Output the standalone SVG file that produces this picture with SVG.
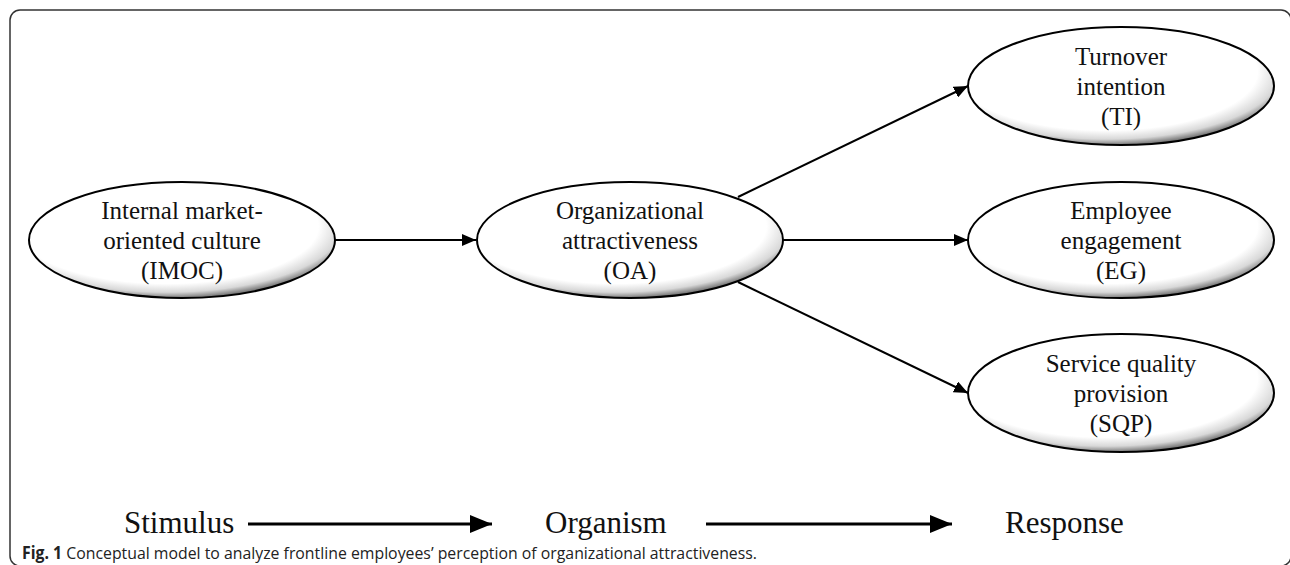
<svg xmlns="http://www.w3.org/2000/svg" width="1290" height="565" viewBox="0 0 1290 565">
<style>
.node ellipse{fill:url(#shade);stroke:#000;stroke-width:2}
.lbl{font-family:"Liberation Serif","Times New Roman",serif;font-size:25px;fill:#111;text-anchor:middle}
.big{font-family:"Liberation Serif","Times New Roman",serif;font-size:31px;fill:#111}
.conn line{stroke:#000;stroke-width:2}
.flow line{stroke:#000;stroke-width:3}
.cap{font-family:"Open Sans","Liberation Sans",sans-serif;font-size:17px;fill:#222}
</style>
<defs>
<radialGradient id="shade" cx="0.45" cy="0.38" r="0.62">
<stop offset="0" stop-color="#fff"/>
<stop offset="0.8" stop-color="#fff"/>
<stop offset="0.92" stop-color="#d8d8d8"/>
<stop offset="1" stop-color="#7a7a7a"/>
</radialGradient>
<marker id="ah" viewBox="0 0 14 12" refX="14" refY="6" markerWidth="14" markerHeight="12" markerUnits="userSpaceOnUse" orient="auto">
<path d="M0,0 L14,6 L0,12 z" fill="#000"/>
</marker>
<marker id="ahb" viewBox="0 0 22 18" refX="22" refY="9" markerWidth="22" markerHeight="18" markerUnits="userSpaceOnUse" orient="auto">
<path d="M0,0 L22,9 L0,18 z" fill="#000"/>
</marker>
</defs>
<rect x="0" y="0" width="1290" height="565" fill="#fff"/>
<rect x="10" y="10" width="1281" height="556" rx="10" ry="10" fill="none" stroke="#333" stroke-width="1.5"/>

<g class="conn">
<line x1="335" y1="240" x2="476" y2="240" marker-end="url(#ah)"/>
<line x1="738" y1="197" x2="968" y2="86" marker-end="url(#ah)"/>
<line x1="783" y1="240" x2="968" y2="240" marker-end="url(#ah)"/>
<line x1="738" y1="282" x2="968" y2="393" marker-end="url(#ah)"/>
</g>

<g id="imoc" class="node">
<ellipse cx="182" cy="240" rx="153" ry="58"/>
<text class="lbl" x="182" y="219">Internal market-</text>
<text class="lbl" x="182" y="249">oriented culture</text>
<text class="lbl" x="182" y="279">(IMOC)</text>
</g>
<g id="oa" class="node">
<ellipse cx="630" cy="240" rx="153" ry="58"/>
<text class="lbl" x="630" y="219">Organizational</text>
<text class="lbl" x="630" y="249">attractiveness</text>
<text class="lbl" x="630" y="279">(OA)</text>
</g>
<g id="ti" class="node">
<ellipse cx="1121" cy="86" rx="153" ry="59"/>
<text class="lbl" x="1121" y="65">Turnover</text>
<text class="lbl" x="1121" y="95">intention</text>
<text class="lbl" x="1121" y="125">(TI)</text>
</g>
<g id="eg" class="node">
<ellipse cx="1121" cy="240" rx="153" ry="58"/>
<text class="lbl" x="1121" y="219">Employee</text>
<text class="lbl" x="1121" y="249">engagement</text>
<text class="lbl" x="1121" y="279">(EG)</text>
</g>
<g id="sqp" class="node">
<ellipse cx="1121" cy="393" rx="153" ry="59"/>
<text class="lbl" x="1121" y="372">Service quality</text>
<text class="lbl" x="1121" y="402">provision</text>
<text class="lbl" x="1121" y="432">(SQP)</text>
</g>

<g id="stages">
<text class="big" x="124" y="533">Stimulus</text>
<text class="big" x="545" y="533">Organism</text>
<text class="big" x="1005" y="533">Response</text>
</g>
<g class="flow">
<line x1="248" y1="524" x2="492" y2="524" marker-end="url(#ahb)"/>
<line x1="706" y1="524" x2="952" y2="524" marker-end="url(#ahb)"/>
</g>

<text class="cap" x="22" y="559" textLength="735" lengthAdjust="spacingAndGlyphs"><tspan font-weight="bold">Fig. 1</tspan> Conceptual model to analyze frontline employees’ perception of organizational attractiveness.</text>
</svg>
